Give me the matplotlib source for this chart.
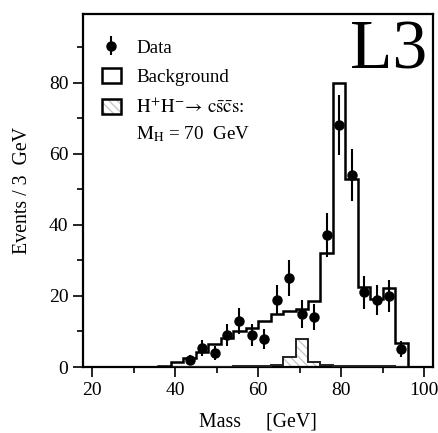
import numpy as np
import matplotlib
matplotlib.use("Agg")
import matplotlib.pyplot as plt
from matplotlib.patches import Rectangle
from matplotlib.legend_handler import HandlerTuple

plt.rcParams['font.family'] = ['Liberation Serif', 'DejaVu Serif']
plt.rcParams['mathtext.fontset'] = 'stix'

# Bin edges (3 GeV bins)
bin_edges = np.arange(36, 97, 3)  # 36 ... 96

# Background histogram (events / 3 GeV)
background = [0.2, 1.3, 2.4, 4.3, 6.4, 8.2, 10.1, 11.1, 13.0, 14.8,
              15.8, 16.2, 18.7, 32.2, 80.0, 52.9, 22.4, 19.0, 22.1, 6.8]

# Signal H+H- -> cs cs, M_H = 70 GeV
signal = [0.0, 0.0, 0.0, 0.0, 0.0, 0.0, 0.15, 0.15, 0.2, 0.5,
          2.9, 7.8, 1.3, 0.5, 0.15, 0.15, 0.15, 0.3, 0.15, 0.0]

# Data points
data_mass = [43.5, 46.5, 49.5, 52.5, 55.5, 58.5, 61.5, 64.5, 67.5, 70.5,
             73.5, 76.5, 79.5, 82.5, 85.5, 88.5, 91.5, 94.5]
data_events = [2.0, 5.3, 4.0, 9.0, 13.0, 9.0, 8.0, 18.9, 25.0, 15.0,
               14.0, 37.1, 68.1, 54.0, 21.0, 18.9, 20.0, 5.0]
data_err = [1.4, 2.3, 2.0, 3.0, 3.6, 3.0, 2.8, 4.3, 5.0, 3.9,
            3.7, 6.1, 8.4, 7.4, 4.6, 4.3, 4.5, 2.2]

fig = plt.figure(figsize=(4.38, 4.33), dpi=100)
ax = fig.add_axes([83/438, 1 - 367/433, 350/438, 353/433])

lw = 1.8
# signal hatched (light grey hatch) + black outline
ax.stairs(signal, bin_edges, baseline=0, fill=True, facecolor='white',
          edgecolor='#c8c8c8', hatch='\\\\\\\\', linewidth=0, zorder=2)
ax.stairs(signal, bin_edges, baseline=0, fill=False, edgecolor='#222222',
          linewidth=1.4, zorder=3)
# background
ax.stairs(background, bin_edges, baseline=0, fill=False, edgecolor='black',
          linewidth=lw, zorder=4)
# data
eb = ax.errorbar(data_mass, data_events, yerr=data_err, fmt='o', color='black',
                 markersize=6.5, elinewidth=1.5, capsize=0, zorder=5)

ax.set_xlim(17.83, 102.1)
ax.set_ylim(0, 99.3)
ax.set_xticks([20, 40, 60, 80, 100])
ax.set_xticks([30, 50, 70, 90], minor=True)
ax.set_yticks([0, 20, 40, 60, 80])
ax.set_yticks([10, 30, 50, 70, 90], minor=True)
ax.tick_params(which='both', direction='out', top=False, right=False,
               labelsize=14, width=1.2)
ax.tick_params(which='major', length=7)
ax.tick_params(which='minor', length=4)
for s in ax.spines.values():
    s.set_linewidth(1.6)

ax.set_xlabel('Mass     [GeV]', fontsize=14.3, labelpad=10)
ax.set_ylabel('Events / 3  GeV', fontsize=14.3, labelpad=12)

# Legend
bg_handle = Rectangle((0, 0), 1, 1, facecolor='white', edgecolor='black', linewidth=1.8)
sig_h1 = Rectangle((0, 0), 1, 1, facecolor='white', edgecolor='#c8c8c8',
                   hatch='\\\\\\\\', linewidth=0)
sig_h2 = Rectangle((0, 0), 1, 1, facecolor='none', edgecolor='black', linewidth=1.8)
leg = ax.legend([eb, bg_handle, (sig_h1, sig_h2)],
                ['Data', 'Background',
                 r'$\mathrm{H^{+}H^{-}}\!\rightarrow\,\mathrm{c\bar{s}\bar{c}s}$:'],
                handler_map={tuple: HandlerTuple(ndivide=1, pad=0)},
                loc='upper left', bbox_to_anchor=(0.054, 0.93), frameon=False,
                fontsize=13.7, handlelength=1.0, handleheight=0.8,
                handletextpad=0.8, labelspacing=0.6, borderaxespad=0,
                borderpad=0)
ax.text(0.151, 0.66, r'$\mathrm{M_H}$ = 70  GeV', transform=ax.transAxes,
        fontsize=13.7, ha='left', va='center')

ax.text(0.985, 0.845, 'L3', transform=ax.transAxes, fontsize=50,
        ha='right', va='baseline')

fig.savefig('out.png', dpi=100)
